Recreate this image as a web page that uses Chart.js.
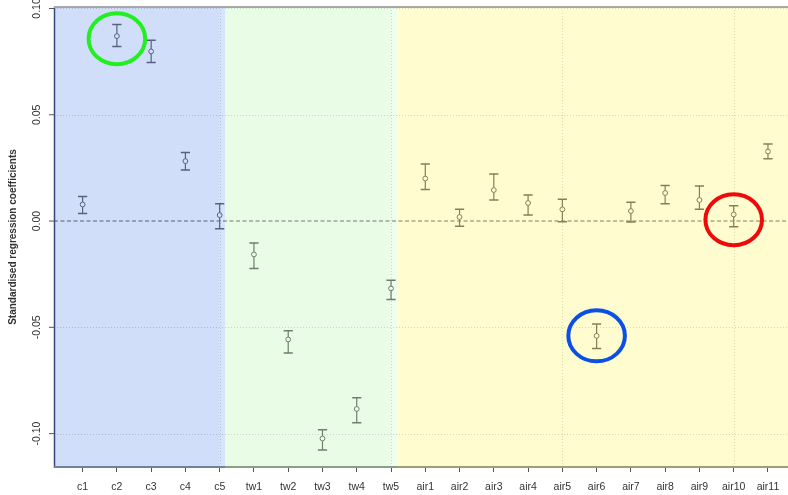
<!DOCTYPE html>
<html>
<head>
<meta charset="utf-8">
<script src="https://cdn.jsdelivr.net/npm/chart.js@4/dist/chart.umd.min.js"></script>
<style>
  html, body { margin: 0; padding: 0; background: #ffffff; }
  #wrap { width: 788px; height: 495px; position: relative; }
</style>
</head>
<body>
<div id="wrap"><canvas id="chart" width="788" height="495"></canvas></div>
<script>
// Predictor names along the x axis
const categories = ['c1','c2','c3','c4','c5','tw1','tw2','tw3','tw4','tw5',
  'air1','air2','air3','air4','air5','air6','air7','air8','air9','air10','air11'];

// Standardised coefficients with their interval limits
const coef = [0.0078, 0.0870, 0.0798, 0.0282, 0.0028, -0.0157, -0.0557, -0.1023, -0.0884, -0.0317,
  0.0200, 0.0019, 0.0146, 0.0085, 0.0055, -0.0540, 0.0047, 0.0132, 0.0099, 0.0031, 0.0327];
const upper = [0.0116, 0.0925, 0.0851, 0.0323, 0.0081, -0.0103, -0.0516, -0.0982, -0.0831, -0.0279,
  0.0268, 0.0055, 0.0221, 0.0122, 0.0103, -0.0484, 0.0089, 0.0167, 0.0165, 0.0072, 0.0362];
const lower = [0.0036, 0.0821, 0.0746, 0.0240, -0.0036, -0.0223, -0.0621, -0.1077, -0.0949, -0.0369,
  0.0149, -0.0024, 0.0099, 0.0028, -0.0003, -0.0599, -0.0005, 0.0081, 0.0055, -0.0027, 0.0293];

// Axis ticks
const yTicks = [0.10, 0.05, 0.00, -0.05, -0.10];
const yTickLabels = ['0.10', '0.05', '0.00', '-0.05', '-0.10'];
const yTitle = 'Standardised regression coefficients';

// Highlighted predictors (ring centre in data units)
const highlights = [
  { cat: 'c2', y: 0.0858, color: '#22ee22' },
  { cat: 'air6', y: -0.0540, color: '#0a50e4' },
  { cat: 'air10', y: 0.0006, color: '#ee0a0a' }
];

const X_MIN = -0.835, X_MAX = 20.585;
const Y_MIN = -0.1157, Y_MAX = 0.1007;

// Translucent group shading laid over the plot
const bands = [
  { from: X_MIN, to: 4.0,   fill: 'rgba(20,90,230,0.20)' },
  { from: 4.0,   to: 4.16,  fill: 'rgba(20,90,230,0.165)' },
  { from: 4.16,  to: 9.0,   fill: 'rgba(145,245,130,0.20)' },
  { from: 9.0,   to: 9.18,  fill: 'rgba(145,245,130,0.15)' },
  { from: 9.18,  to: X_MAX, fill: 'rgba(255,245,20,0.20)' }
];

const FONT = '"Liberation Sans", Arial, sans-serif';
const MARK = '#646464';

const decorPlugin = {
  id: 'decor',
  beforeDatasetsDraw(chart) {
    const { ctx, chartArea: a, scales: { x, y } } = chart;
    ctx.save();
    // horizontal reference lines
    ctx.lineWidth = 1;
    ctx.strokeStyle = '#d4d4d4';
    ctx.setLineDash([1, 2]);
    yTicks.forEach(v => {
      if (v === 0) return;
      const py = Math.round(y.getPixelForValue(v)) + 0.5;
      ctx.beginPath(); ctx.moveTo(a.left, py); ctx.lineTo(a.right, py); ctx.stroke();
    });
    // vertical reference lines every fifth predictor
    [4, 9, 14, 19].forEach(i => {
      const px = Math.round(x.getPixelForValue(i)) + 0.5;
      ctx.beginPath(); ctx.moveTo(px, a.top); ctx.lineTo(px, a.bottom); ctx.stroke();
    });
    // zero line
    ctx.strokeStyle = '#969696';
    ctx.lineWidth = 1.6;
    ctx.setLineDash([4, 2.5]);
    const z = y.getPixelForValue(0);
    ctx.beginPath(); ctx.moveTo(a.left, z); ctx.lineTo(a.right, z); ctx.stroke();
    ctx.setLineDash([]);
    // error bars
    ctx.strokeStyle = MARK;
    for (let i = 0; i < coef.length; i++) {
      const px = x.getPixelForValue(i);
      const pu = y.getPixelForValue(upper[i]);
      const pl = y.getPixelForValue(lower[i]);
      const pc = y.getPixelForValue(coef[i]);
      ctx.lineWidth = 1.2;
      ctx.beginPath();
      ctx.moveTo(px, pu); ctx.lineTo(px, pc - 2.4);
      ctx.moveTo(px, pc + 2.4); ctx.lineTo(px, pl);
      ctx.stroke();
      ctx.lineWidth = 1.5;
      ctx.beginPath();
      ctx.moveTo(px - 4.6, pu); ctx.lineTo(px + 4.6, pu);
      ctx.moveTo(px - 4.6, pl); ctx.lineTo(px + 4.6, pl);
      ctx.stroke();
    }
    // axis lines
    ctx.strokeStyle = '#3c4660';
    ctx.lineWidth = 1.5;
    ctx.beginPath(); ctx.moveTo(a.left + 0.5, a.top); ctx.lineTo(a.left + 0.5, a.bottom + 1); ctx.stroke();
    ctx.strokeStyle = '#8a8a8a';
    ctx.lineWidth = 2;
    ctx.beginPath(); ctx.moveTo(a.left, a.bottom); ctx.lineTo(a.right, a.bottom); ctx.stroke();
    ctx.restore();
  },
  afterDatasetsDraw(chart) {
    const { ctx, chartArea: a, scales: { x, y } } = chart;
    ctx.save();
    // group shading
    bands.forEach(b => {
      const x0 = Math.max(a.left - 1, x.getPixelForValue(b.from));
      const x1 = Math.min(a.right, x.getPixelForValue(b.to));
      ctx.fillStyle = b.fill;
      ctx.fillRect(x0, a.top, x1 - x0, a.bottom - a.top + 1);
    });
    // top frame
    ctx.strokeStyle = '#a8a8a8';
    ctx.lineWidth = 2;
    ctx.beginPath(); ctx.moveTo(a.left, a.top); ctx.lineTo(a.right, a.top); ctx.stroke();
    // highlight rings
    ctx.lineWidth = 4;
    highlights.forEach(h => {
      const cx = x.getPixelForValue(categories.indexOf(h.cat));
      const cy = y.getPixelForValue(h.y);
      ctx.strokeStyle = h.color;
      ctx.beginPath();
      ctx.ellipse(cx, cy, 28.3, 25.5, 0, 0, Math.PI * 2);
      ctx.stroke();
    });
    ctx.restore();
  },
  afterDraw(chart) {
    const { ctx, chartArea: a, scales: { y } } = chart;
    ctx.save();
    // y tick marks and rotated labels
    ctx.strokeStyle = '#555';
    ctx.lineWidth = 1;
    ctx.fillStyle = '#333';
    ctx.font = '10.5px ' + FONT;
    ctx.textAlign = 'center';
    ctx.textBaseline = 'middle';
    yTicks.forEach((v, i) => {
      const py = y.getPixelForValue(v);
      ctx.beginPath(); ctx.moveTo(a.left - 5, py); ctx.lineTo(a.left, py); ctx.stroke();
      ctx.save();
      ctx.translate(37.5, py);
      ctx.rotate(-Math.PI / 2);
      ctx.fillText(yTickLabels[i], 0, 0);
      ctx.restore();
    });
    // y axis title
    ctx.font = 'bold 10px ' + FONT;
    ctx.save();
    ctx.translate(13.5, (a.top + a.bottom) / 2);
    ctx.rotate(-Math.PI / 2);
    ctx.fillText(yTitle, 0, 0);
    ctx.restore();
    ctx.restore();
  }
};

new Chart(document.getElementById('chart'), {
  type: 'scatter',
  data: {
    datasets: [{
      data: coef.map((v, i) => ({ x: i, y: v })),
      pointStyle: 'circle',
      pointRadius: 2.4,
      pointHoverRadius: 2.4,
      borderColor: MARK,
      borderWidth: 1,
      backgroundColor: 'rgba(0,0,0,0)'
    }]
  },
  options: {
    responsive: false,
    animation: false,
    devicePixelRatio: 1,
    layout: { autoPadding: false, padding: { top: 7, left: 0, right: 0, bottom: 0 } },
    plugins: { legend: { display: false }, tooltip: { enabled: false } },
    scales: {
      x: {
        type: 'linear',
        min: X_MIN,
        max: X_MAX,
        afterBuildTicks: s => { s.ticks = categories.map((_, i) => ({ value: i })); },
        afterFit: s => { s.height = 28; s.paddingLeft = 0; s.paddingRight = 0; },
        border: { display: false },
        grid: { display: true, drawOnChartArea: false, drawTicks: true, tickLength: 5, tickColor: '#555', tickWidth: 1 },
        ticks: {
          autoSkip: false, maxRotation: 0, minRotation: 0, padding: 9,
          color: '#333', font: { family: FONT, size: 10.5 },
          callback: v => categories[v]
        }
      },
      y: {
        type: 'linear',
        min: Y_MIN,
        max: Y_MAX,
        afterFit: s => { s.width = 54; s.paddingTop = 0; s.paddingBottom = 0; },
        border: { display: false },
        grid: { display: false },
        ticks: { display: false }
      }
    }
  },
  plugins: [decorPlugin]
});
</script>
</body>
</html>
